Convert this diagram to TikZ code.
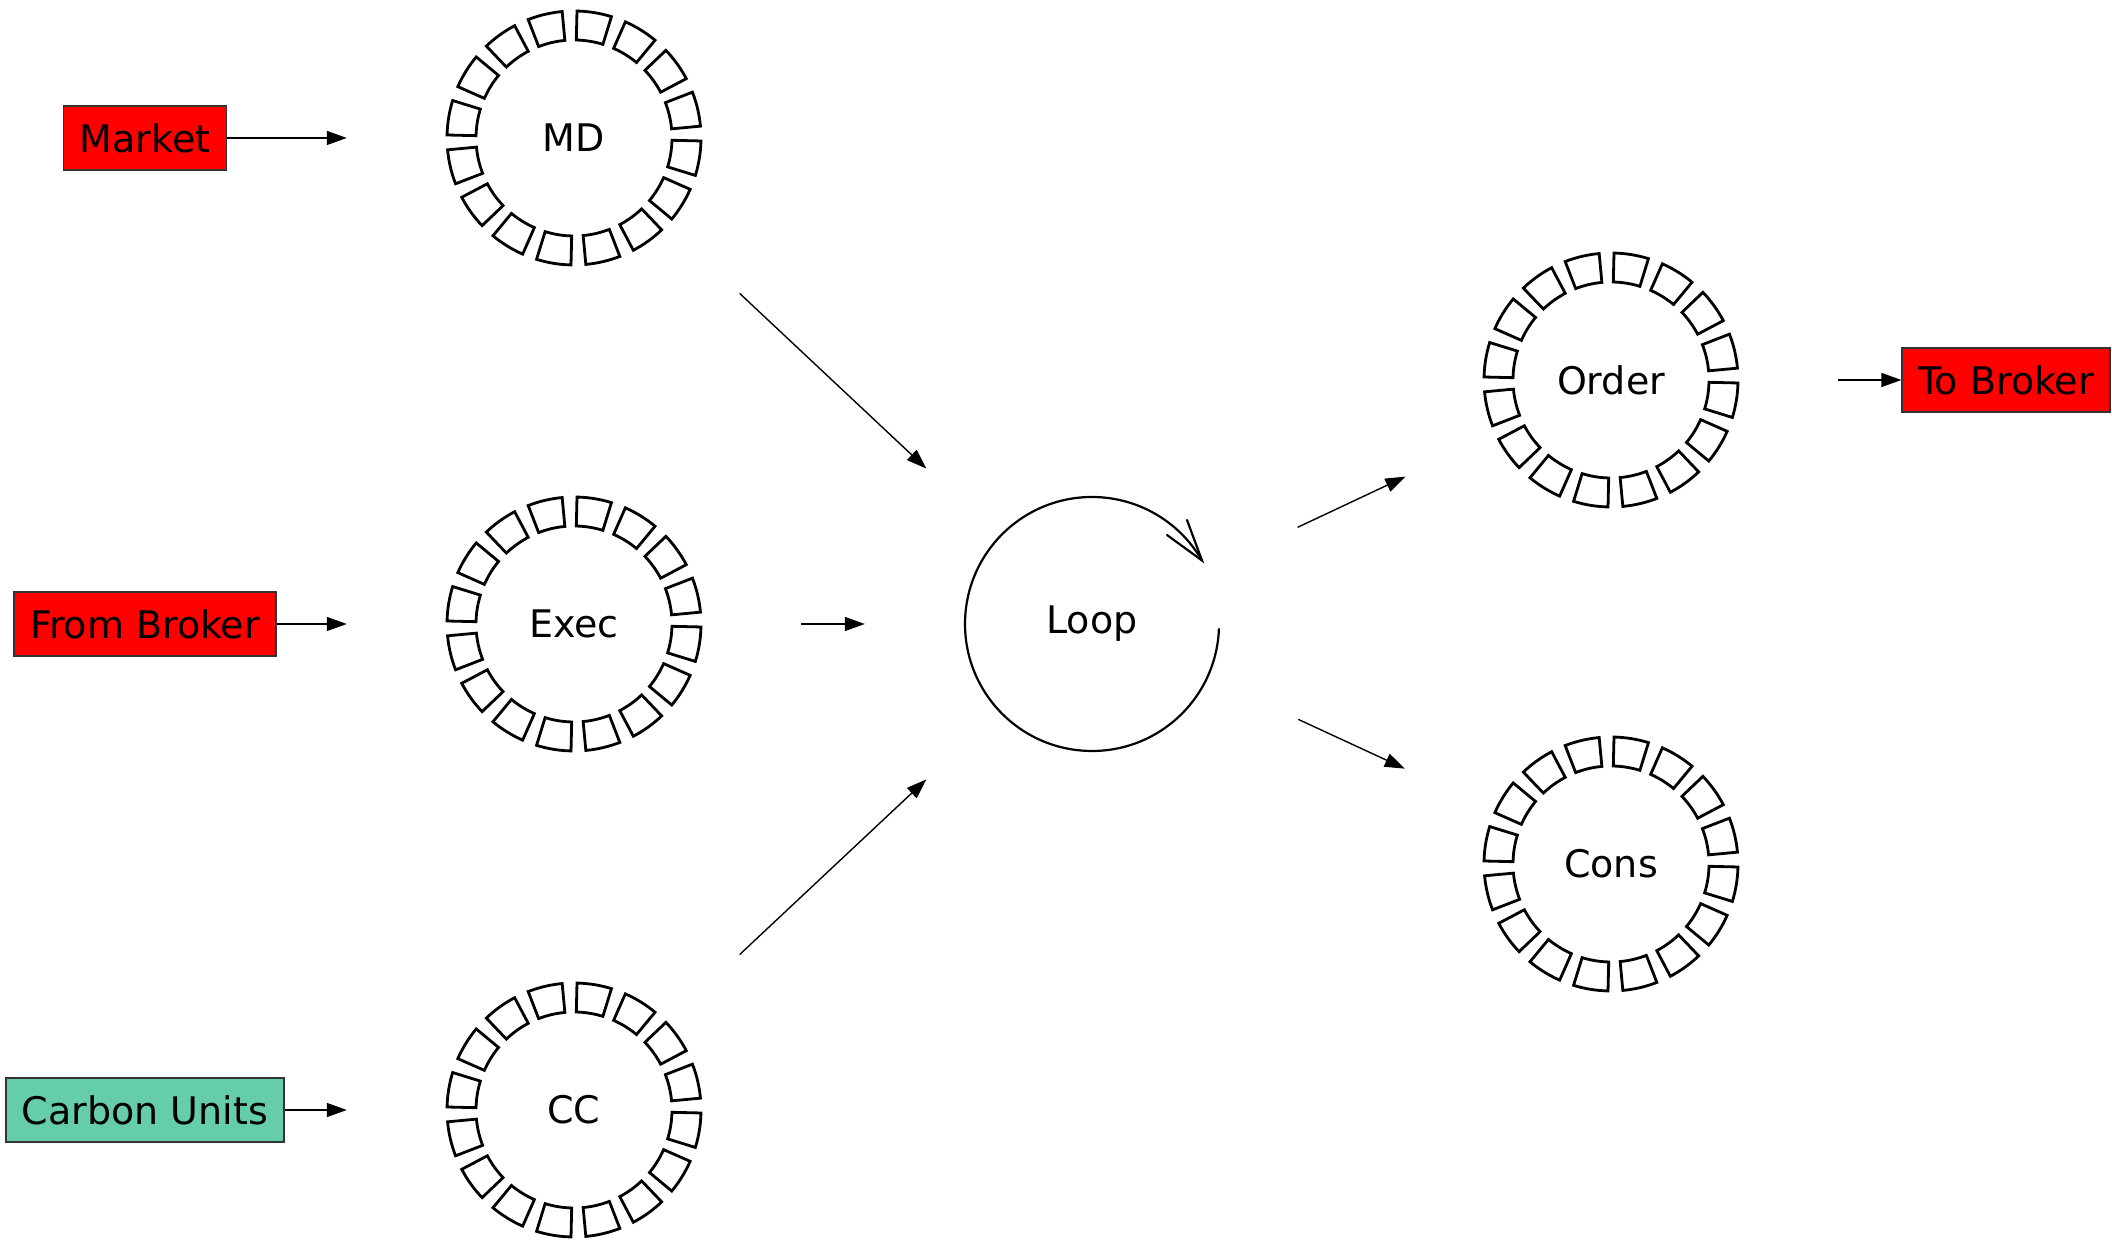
\documentclass[tikz,border=0pt]{standalone}
\usepackage{fontspec}
\setmainfont{DejaVu Sans}
\usetikzlibrary{arrows.meta,calc}
\definecolor{boxred}{HTML}{FF0000}
\definecolor{boxgreen}{HTML}{66CDAA}
\tikzset{
  every node/.style={font=\fontsize{38}{45}\selectfont},
  hub/.style={circle, minimum size=454pt, inner sep=0pt},
  srcbox/.style={rectangle, draw=black!80, line width=1.4pt, inner xsep=16pt, minimum height=64pt},
  conn/.style={line width=1.4pt, -{Triangle[length=20pt,width=14pt]}},
  ringseg/.style={line width=2.8pt, line join=miter},
  ring/.pic={
    \foreach \k in {0,...,15} {
      \pgfmathsetmacro\ca{13.25+22.5*\k-7.9}
      \pgfmathsetmacro\cb{13.25+22.5*\k+7.9}
      \draw[ringseg] (\ca:127pt) arc[start angle=\ca, end angle=\cb, radius=127pt]
        -- (\cb:98pt) arc[start angle=\cb, end angle=\ca, radius=98pt] -- cycle;
    }
  }
}
\begin{document}
\begin{tikzpicture}[x=1pt,y=1pt]
\useasboundingbox (0,0) rectangle (2112,1241);
% hubs
\node[hub] (MD) at (574,1103) {MD};
\node[hub] (Exec) at (574,617) {Exec};
\node[hub] (CC) at (574,131) {CC};
\node[hub] (Loop) at (1092,617) {Loop};
\node[hub] (Order) at (1611,861) {Order};
\node[hub] (Cons) at (1611,377) {Cons};
% rings
\pic at (MD.center) {ring};
\pic at (Exec.center) {ring};
\pic at (CC.center) {ring};
\pic at (Order.center) {ring};
\pic at (Cons.center) {ring};
% loop symbol
\draw[line width=2.2pt] (Loop.center) ++(-2:127pt) arc[start angle=-2, end angle=-330, radius=127pt];
\coordinate (tip) at ($(Loop.center)+(30:127pt)$);
\draw[line width=2.2pt, line cap=round] ($(tip)+(-35,25.5)$) -- (tip) -- ($(tip)+(-15,40.5)$);
% boxes
\node[srcbox, fill=boxred] (Market) at (145,1103) {Market};
\node[srcbox, fill=boxred] (FromBroker) at (145,617) {From Broker};
\node[srcbox, fill=boxgreen] (Carbon) at (145,131) {Carbon Units};
\node[srcbox, fill=boxred] (ToBroker) at (2006,861) {To Broker};
% connectors
\draw[conn] (Market) -- (MD);
\draw[conn] (FromBroker) -- (Exec);
\draw[conn] (Carbon) -- (CC);
\draw[conn] (MD) -- (Loop);
\draw[conn] (Exec) -- (Loop);
\draw[conn] (CC) -- (Loop);
\draw[conn] (Loop) -- (Order);
\draw[conn] (Loop) -- (Cons);
\draw[conn] (Order) -- (ToBroker);
\end{tikzpicture}
\end{document}
